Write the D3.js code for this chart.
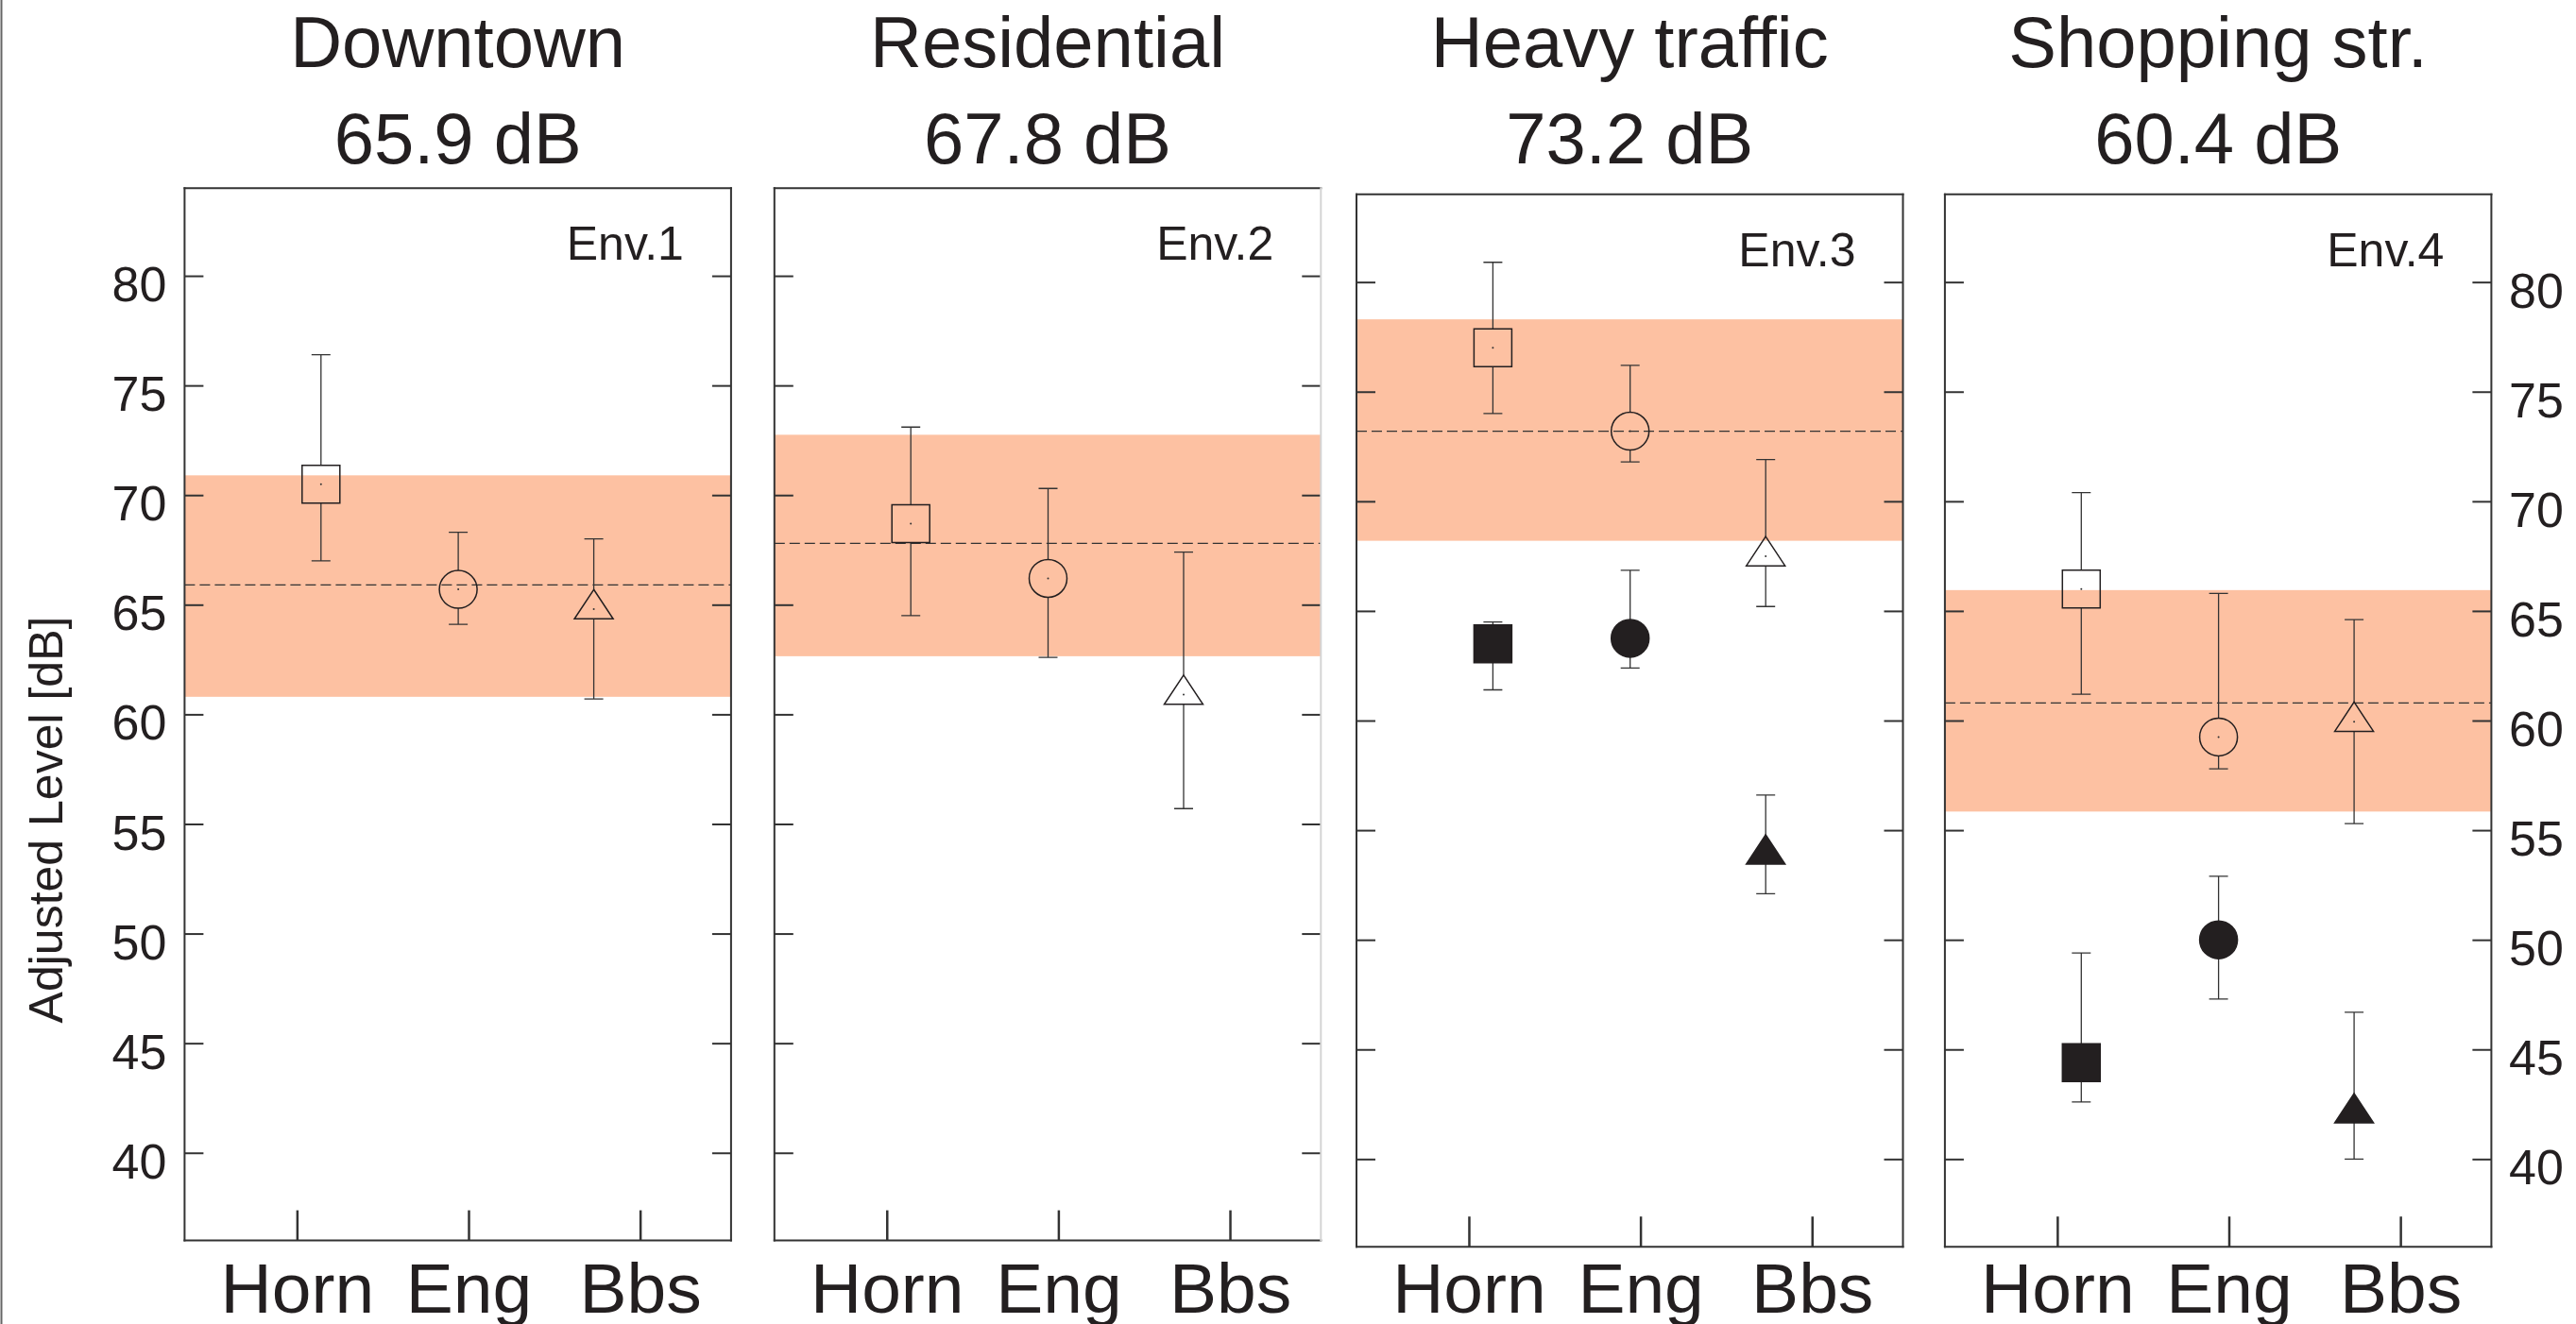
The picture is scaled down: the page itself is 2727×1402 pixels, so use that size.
<!DOCTYPE html>
<html>
<head>
<meta charset="utf-8">
<script src="https://cdn.jsdelivr.net/npm/d3@7"></script>
<style>
  body { margin: 0; background: #fff; }
  svg { display: block; }
  text { font-family: "Liberation Sans", Arial, sans-serif; fill: #231f20; }
</style>
</head>
<body>
<div id="chart"></div>
<script>
// Data
const places = ["Downtown", "Residential", "Heavy traffic", "Shopping str."];
const placeLevels = [65.9, 67.8, 73.2, 60.4];
const envLabels = ["Env.1", "Env.2", "Env.3", "Env.4"];
const sources = ["Horn", "Eng", "Bbs"];
const yTicks = [40, 45, 50, 55, 60, 65, 70, 75, 80];

// shaded band and dashed mean line per environment
const meanLine = [65.9, 67.8, 73.2, 60.8];
const bandLow = [60.8, 62.65, 68.2, 55.85];
const bandHigh = [70.9, 72.75, 78.3, 65.95];

// open markers
const openMean = [[70.5, 65.7, 64.8], [68.7, 66.2, 60.9], [77.0, 73.2, 67.5], [66.0, 59.25, 59.95]];
const openHigh = [[76.4, 68.3, 68.0], [73.1, 70.3, 67.4], [80.9, 76.2, 71.9], [70.4, 65.8, 64.6]];
const openLow = [[67.0, 64.1, 60.7], [64.5, 62.6, 55.7], [74.0, 71.8, 65.2], [61.2, 57.8, 55.3]];

// filled markers (Env.3 and Env.4 only)
const filledMean = [null, null, [63.5, 63.75, 53.9], [44.4, 50.0, 42.1]];
const filledHigh = [null, null, [64.5, 66.85, 56.6], [49.4, 52.9, 46.7]];
const filledLow = [null, null, [61.4, 62.4, 52.1], [42.6, 47.3, 40.0]];

// markers sit slightly off the category ticks in the original
const markerPos = [1.14, 1.94, 2.73];

// Dimensions
const dimensions = {
  width: 2727,
  height: 1402,
  panelWidth: 578.5,
  panelHeight: 1114.4,
  panelLefts: [195.4, 819.8, 1436, 2058.9],
  panelTops: [199.2, 199.2, 205.8, 205.8],
  titleBaselines: [70.7, 173.3],
  labelBaseline: 1390,
};

const ink = "#231f20";

// Draw Image
const svg = d3
  .select("#chart")
  .append("svg")
  .attr("width", dimensions.width)
  .attr("height", dimensions.height);

svg.append("rect").attr("width", dimensions.width).attr("height", dimensions.height).attr("fill", "#fff");

// thin frame line on the far left
svg
  .append("line")
  .attr("x1", 1.5)
  .attr("x2", 1.5)
  .attr("y1", 0)
  .attr("y2", dimensions.height)
  .attr("stroke", "#666")
  .attr("stroke-width", 2);

// Scales
const xScale = d3.scaleLinear().domain([0.345, 3.53]).range([0, dimensions.panelWidth]);

const markerPath = (shape) => {
  if (shape === 0) return "M-20,-20H20V20H-20Z";
  if (shape === 1) return d3.arc()({ innerRadius: 0, outerRadius: 20, startAngle: 0, endAngle: 2 * Math.PI });
  return "M0,-20.7L20.5,10.3L-20.5,10.3Z";
};
const markerTop = [20, 20, 20.7];
const markerBottom = [20, 20, 10.3];

places.forEach((place, i) => {
  const left = dimensions.panelLefts[i];
  const top = dimensions.panelTops[i];
  const yScale = d3.scaleLinear().domain([36, 84]).range([dimensions.panelHeight, 0]);

  const ctr = svg.append("g").attr("transform", `translate(${left}, ${top})`);

  // titles
  ctr
    .append("text")
    .attr("x", dimensions.panelWidth / 2)
    .attr("y", dimensions.titleBaselines[0] - top)
    .attr("text-anchor", "middle")
    .style("font-size", "76px")
    .text(place);
  ctr
    .append("text")
    .attr("x", dimensions.panelWidth / 2)
    .attr("y", dimensions.titleBaselines[1] - top)
    .attr("text-anchor", "middle")
    .style("font-size", "76px")
    .text(`${d3.format(".1f")(placeLevels[i])} dB`);

  // band
  ctr
    .append("rect")
    .attr("x", 0)
    .attr("width", dimensions.panelWidth)
    .attr("y", yScale(bandHigh[i]))
    .attr("height", yScale(bandLow[i]) - yScale(bandHigh[i]))
    .attr("fill", "#fdc1a2");

  ctr
    .append("line")
    .attr("x1", 0)
    .attr("x2", dimensions.panelWidth)
    .attr("y1", yScale(meanLine[i]))
    .attr("y2", yScale(meanLine[i]))
    .attr("stroke", "#333")
    .attr("stroke-width", 1.3)
    .attr("stroke-dasharray", "11,5");

  // Axes
  const yLeft = d3
    .axisLeft(yScale)
    .tickValues(yTicks)
    .tickSizeInner(-20)
    .tickSizeOuter(0)
    .tickPadding(19)
    .tickFormat(i === 0 ? d3.format("d") : () => "");
  const yRight = d3
    .axisRight(yScale)
    .tickValues(yTicks)
    .tickSizeInner(-20)
    .tickSizeOuter(0)
    .tickPadding(18.6)
    .tickFormat(i === 3 ? d3.format("d") : () => "");
  const xAxis = d3
    .axisBottom(xScale)
    .tickValues([1, 2, 3])
    .tickSizeInner(-32)
    .tickSizeOuter(0)
    .tickPadding(dimensions.labelBaseline - (top + dimensions.panelHeight) - 53.3)
    .tickFormat((d) => sources[d - 1]);

  const styleAxis = (g, size) => {
    g.select(".domain").remove();
    g.selectAll(".tick line").attr("stroke", "#333").attr("stroke-width", 2);
    g.selectAll(".tick text").style("font-size", size).attr("fill", ink).style("font-family", null);
  };

  ctr
    .append("g")
    .call(yLeft)
    .call((g) => styleAxis(g, "52px"))
    .call((g) => g.selectAll(".tick text").attr("dy", "0.51em"));
  ctr
    .append("g")
    .attr("transform", `translate(${dimensions.panelWidth}, 0)`)
    .call(yRight)
    .call((g) => styleAxis(g, "52px"))
    .call((g) => g.selectAll(".tick text").attr("dy", "0.51em"));
  ctr
    .append("g")
    .attr("transform", `translate(0, ${dimensions.panelHeight})`)
    .call(xAxis)
    .call((g) => styleAxis(g, "75px"))
    .call((g) => g.selectAll(".tick line").attr("stroke-width", 2.5));

  // frame
  const w = dimensions.panelWidth;
  const h = dimensions.panelHeight;
  const frame = [
    [0, 0, w, 0],
    [0, 0, 0, h],
    [0, h, w, h],
    [w, 0, w, h],
  ];
  ctr
    .append("g")
    .selectAll("line")
    .data(frame)
    .join("line")
    .attr("x1", (d) => d[0])
    .attr("y1", (d) => d[1])
    .attr("x2", (d) => d[2])
    .attr("y2", (d) => d[3])
    .attr("stroke", (d, k) => (i === 1 && k === 3 ? "#d4d4d4" : "#333"))
    .attr("stroke-width", 2)
    .attr("stroke-linecap", "square");

  // points
  const points = sources.map((s, j) => ({
    shape: j,
    mean: openMean[i][j],
    hi: openHigh[i][j],
    lo: openLow[i][j],
    filled: false,
  }));
  if (filledMean[i]) {
    sources.forEach((s, j) => {
      points.push({ shape: j, mean: filledMean[i][j], hi: filledHigh[i][j], lo: filledLow[i][j], filled: true });
    });
  }

  const pts = ctr
    .append("g")
    .selectAll("g")
    .data(points)
    .join("g")
    .attr("transform", (d) => `translate(${xScale(markerPos[d.shape])}, 0)`);

  // error bars (not drawn through open markers)
  pts
    .append("path")
    .attr("d", (d) => {
      const cy = yScale(d.mean);
      const yHi = yScale(d.hi);
      const yLo = yScale(d.lo);
      const tTop = cy - markerTop[d.shape];
      const tBot = cy + markerBottom[d.shape];
      let p = `M-10,${yHi}H10M-10,${yLo}H10`;
      if (yHi < tTop) p += `M0,${yHi}V${tTop}`;
      if (yLo > tBot) p += `M0,${tBot}V${yLo}`;
      return p;
    })
    .attr("fill", "none")
    .attr("stroke", "#333")
    .attr("stroke-width", 1.3);

  pts
    .append("path")
    .attr("transform", (d) => `translate(0, ${yScale(d.mean)})`)
    .attr("d", (d) => markerPath(d.shape))
    .attr("fill", (d) => (d.filled ? ink : "none"))
    .attr("stroke", ink)
    .attr("stroke-width", 1.5);

  pts
    .filter((d) => !d.filled)
    .append("circle")
    .attr("cy", (d) => yScale(d.mean))
    .attr("r", 1)
    .attr("fill", "#333");

  // Env label
  ctr
    .append("text")
    .attr("x", dimensions.panelWidth - 50)
    .attr("y", 76)
    .attr("text-anchor", "end")
    .style("font-size", "50px")
    .text(envLabels[i]);
});

// Y axis title
svg
  .append("text")
  .attr("transform", `translate(66, 868) rotate(-90)`)
  .attr("text-anchor", "middle")
  .style("font-size", "50px")
  .text("Adjusted Level [dB]");
</script>
</body>
</html>
